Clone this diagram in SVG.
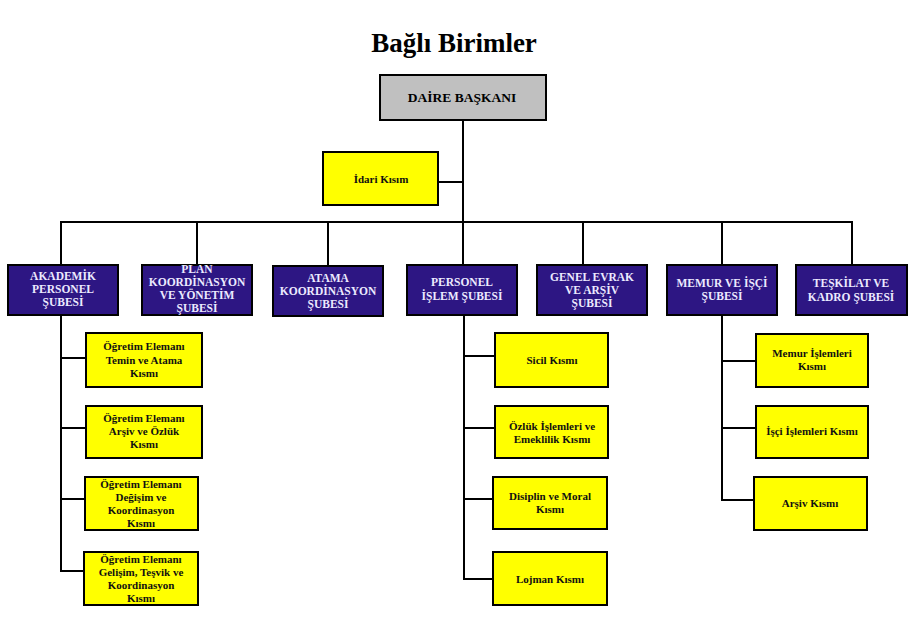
<svg xmlns="http://www.w3.org/2000/svg" width="923" height="623" viewBox="0 0 923 623">
<style>
text{font-family:"Liberation Serif","Times New Roman",serif;font-weight:bold;text-anchor:middle}
.title{font-size:27px;fill:#000}
.head rect{fill:#c0c0c0;stroke:#000;stroke-width:2}
.head text{font-size:13.5px;fill:#000}
.sube rect{fill:#2d1683;stroke:#000;stroke-width:2}
.sube text{font-size:11.5px;fill:#eceaff}
.kisim rect{fill:#ffff00;stroke:#000;stroke-width:2}
.kisim text{font-size:11px;fill:#111}
.conn line{stroke:#000;stroke-width:2;fill:none}
</style>
<rect width="923" height="623" fill="#fff"/>
<text class="title" x="454" y="52">Bağlı Birimler</text>

<g class="conn" id="connectors">
<line x1="463" y1="120" x2="463" y2="222"/>
<line x1="438" y1="182" x2="463" y2="182"/>
<line x1="60" y1="222" x2="853" y2="222"/>
<line x1="61" y1="221" x2="61" y2="265"/>
<line x1="197" y1="221" x2="197" y2="265"/>
<line x1="328" y1="221" x2="328" y2="265"/>
<line x1="463" y1="221" x2="463" y2="265"/>
<line x1="583" y1="221" x2="583" y2="265"/>
<line x1="722" y1="221" x2="722" y2="265"/>
<line x1="852" y1="221" x2="852" y2="265"/>
<line x1="61" y1="315" x2="61" y2="572"/>
<line x1="60" y1="358" x2="86" y2="358"/>
<line x1="60" y1="428" x2="86" y2="428"/>
<line x1="60" y1="499" x2="85" y2="499"/>
<line x1="60" y1="571" x2="84" y2="571"/>
<line x1="464" y1="315" x2="464" y2="580"/>
<line x1="463" y1="356" x2="495" y2="356"/>
<line x1="463" y1="428" x2="495" y2="428"/>
<line x1="463" y1="499" x2="493" y2="499"/>
<line x1="463" y1="579" x2="493" y2="579"/>
<line x1="722" y1="315" x2="722" y2="501"/>
<line x1="721" y1="361" x2="756" y2="361"/>
<line x1="721" y1="428" x2="756" y2="428"/>
<line x1="721" y1="500" x2="754" y2="500"/>
</g>

<g id="daire-baskani" class="head">
<rect x="380" y="75" width="166" height="45"/>
<text x="462" y="102">DAİRE BAŞKANI</text>
</g>

<g id="idari-kisim" class="kisim">
<rect x="323" y="152" width="115" height="53"/>
<text x="381" y="183">İdari Kısım</text>
</g>

<g id="akademik" class="sube">
<rect x="8" y="265" width="110" height="50"/>
<text x="63" y="280">AKADEMİK</text>
<text x="63" y="293">PERSONEL</text>
<text x="63" y="306">ŞUBESİ</text>
</g>
<g id="plan" class="sube">
<rect x="142" y="265" width="110" height="50"/>
<text x="197" y="273">PLAN</text>
<text x="197" y="286">KOORDİNASYON</text>
<text x="197" y="299">VE YÖNETİM</text>
<text x="197" y="312">ŞUBESİ</text>
</g>
<g id="atama" class="sube">
<rect x="273" y="266" width="110" height="50"/>
<text x="328" y="282">ATAMA</text>
<text x="328" y="295">KOORDİNASYON</text>
<text x="328" y="308">ŞUBESİ</text>
</g>
<g id="personel-islem" class="sube">
<rect x="407" y="265" width="110" height="50"/>
<text x="462" y="286">PERSONEL</text>
<text x="462" y="300">İŞLEM ŞUBESİ</text>
</g>
<g id="genel-evrak" class="sube">
<rect x="537" y="265" width="110" height="50"/>
<text x="592" y="281">GENEL EVRAK</text>
<text x="592" y="294">VE ARŞİV</text>
<text x="592" y="307">ŞUBESİ</text>
</g>
<g id="memur-isci" class="sube">
<rect x="667" y="265" width="110" height="50"/>
<text x="722" y="287">MEMUR VE İŞÇİ</text>
<text x="722" y="300">ŞUBESİ</text>
</g>
<g id="teskilat" class="sube">
<rect x="796" y="265" width="111" height="50"/>
<text x="851" y="287">TEŞKİLAT VE</text>
<text x="851" y="301">KADRO ŞUBESİ</text>
</g>

<g id="ogr-temin" class="kisim">
<rect x="86" y="333" width="116" height="54"/>
<text x="144" y="350">Öğretim Elemanı</text>
<text x="144" y="364">Temin ve Atama</text>
<text x="144" y="377">Kısmı</text>
</g>
<g id="ogr-arsiv" class="kisim">
<rect x="86" y="406" width="116" height="52"/>
<text x="144" y="422">Öğretim Elemanı</text>
<text x="144" y="435">Arşiv ve Özlük</text>
<text x="144" y="448">Kısmı</text>
</g>
<g id="ogr-degisim" class="kisim">
<rect x="85" y="477" width="113" height="53"/>
<text x="141" y="488">Öğretim Elemanı</text>
<text x="141" y="501">Değişim ve</text>
<text x="141" y="514">Koordinasyon</text>
<text x="141" y="527">Kısmı</text>
</g>
<g id="ogr-gelisim" class="kisim">
<rect x="84" y="552" width="114" height="53"/>
<text x="141" y="563">Öğretim Elemanı</text>
<text x="141" y="576">Gelişim, Teşvik ve</text>
<text x="141" y="589">Koordinasyon</text>
<text x="141" y="602">Kısmı</text>
</g>

<g id="sicil" class="kisim">
<rect x="495" y="333" width="113" height="54"/>
<text x="552" y="364">Sicil Kısmı</text>
</g>
<g id="ozluk" class="kisim">
<rect x="495" y="406" width="113" height="52"/>
<text x="552" y="430">Özlük İşlemleri ve</text>
<text x="552" y="443">Emeklilik Kısmı</text>
</g>
<g id="disiplin" class="kisim">
<rect x="493" y="477" width="114" height="52"/>
<text x="550" y="500">Disiplin ve Moral</text>
<text x="550" y="513">Kısmı</text>
</g>
<g id="lojman" class="kisim">
<rect x="493" y="552" width="114" height="53"/>
<text x="550" y="583">Lojman Kısmı</text>
</g>

<g id="memur-islemleri" class="kisim">
<rect x="756" y="334" width="112" height="53"/>
<text x="812" y="357">Memur İşlemleri</text>
<text x="812" y="370">Kısmı</text>
</g>
<g id="isci-islemleri" class="kisim">
<rect x="756" y="406" width="112" height="52"/>
<text x="812" y="435">İşçi İşlemleri Kısmı</text>
</g>
<g id="arsiv" class="kisim">
<rect x="754" y="477" width="113" height="53"/>
<text x="810" y="507">Arşiv Kısmı</text>
</g>
</svg>
